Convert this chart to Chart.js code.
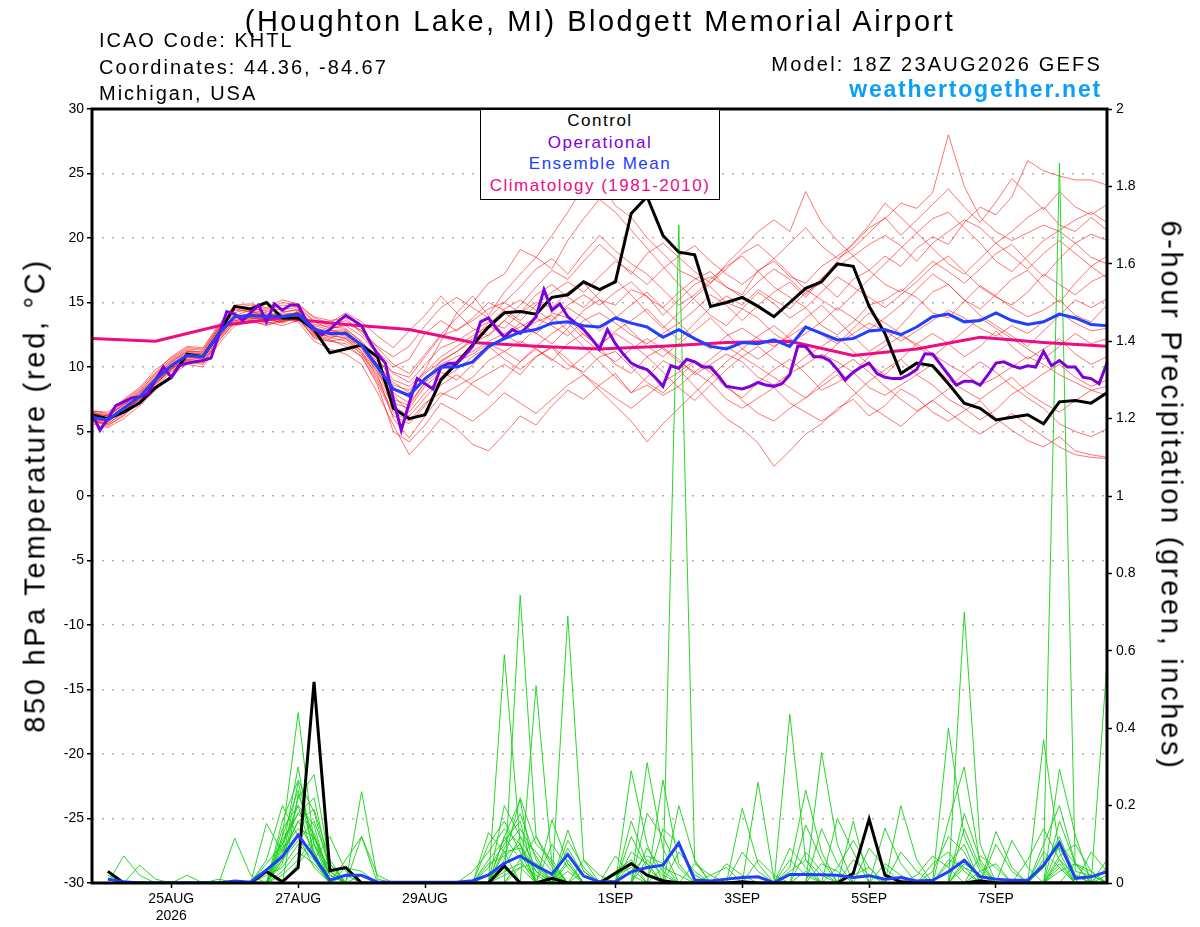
<!DOCTYPE html>
<html><head><meta charset="utf-8">
<script src="https://cdn.jsdelivr.net/npm/chart.js@4.4.1/dist/chart.umd.min.js"></script>
<style>
html,body{margin:0;padding:0;background:#fff;}
#wrap{position:relative;width:1200px;height:927px;overflow:hidden;background:#fff;font-family:"Liberation Sans",Arial,Helvetica,sans-serif;color:#000;}
#c{position:absolute;left:0;top:0;}
.t{position:absolute;white-space:nowrap;line-height:1;}
#leg{position:absolute;left:480px;top:109px;width:240px;height:91px;box-sizing:border-box;border:1.5px solid #000;background:#fff;font-size:17px;letter-spacing:1.5px;text-align:center;}
#leg div{line-height:21.7px;}
</style></head><body>
<div id="wrap">
<canvas id="c" width="1200" height="927"></canvas>
<div class="t" style="left:0;width:1200px;text-align:center;top:6.5px;font-size:29px;letter-spacing:2.5px;">(Houghton Lake, MI) Blodgett Memorial Airport</div>
<div class="t" style="left:99px;top:30px;font-size:20px;letter-spacing:2px;">ICAO Code: KHTL</div>
<div class="t" style="left:99px;top:57px;font-size:20px;letter-spacing:2px;">Coordinates: 44.36, -84.67</div>
<div class="t" style="left:99px;top:83px;font-size:20px;letter-spacing:2px;">Michigan, USA</div>
<div class="t" style="right:98px;top:54px;font-size:20px;letter-spacing:2.2px;">Model: 18Z 23AUG2026 GEFS</div>
<div class="t" style="right:98px;top:77.5px;font-size:23px;font-weight:bold;letter-spacing:1.8px;color:#0aa0fa;">weathertogether.net</div>
<div class="t" style="left:-265px;top:480.5px;width:600px;text-align:center;font-size:29px;letter-spacing:2.7px;transform:rotate(-90deg);">850 hPa Temperature (red, °C)</div>
<div class="t" style="left:871px;top:480.5px;width:600px;text-align:center;font-size:29px;letter-spacing:2.7px;transform:rotate(90deg);">6-hour Precipitation (green, inches)</div>
<div id="leg">
<div style="color:#000">Control</div>
<div style="color:#8000d8">Operational</div>
<div style="color:#2040ff">Ensemble Mean</div>
<div style="color:#ec0c84">Climatology (1981-2010)</div>
</div>
</div>
<script>
// ---- axis ticks (hours after 18Z 23AUG2026) ----
const tickHours = [30, 78, 126, 198, 246, 294, 342];
const tickLabels = [['25AUG','2026'], '27AUG', '29AUG', '1SEP', '3SEP', '5SEP', '7SEP'];

// ---- 850 hPa temperature (deg C), 6-hourly from 18Z 23AUG ----
const controlTemp = [6.3,6.0,6.5,7.2,8.4,9.2,11.0,10.8,12.6,14.7,14.5,15.0,13.8,13.8,12.9,11.1,11.4,11.7,10.8,6.8,
 6.0,6.3,9.0,10.3,11.7,13.1,14.2,14.3,14.1,15.4,15.6,16.6,16.0,16.6,21.9,23.2,20.2,18.9,18.7,14.7,
 15.0,15.4,14.7,13.9,15.0,16.1,16.6,18.0,17.8,14.7,12.6,9.5,10.3,10.1,8.7,7.2,6.8,5.9,6.1,6.3,
 5.6,7.3,7.4,7.2,8.0];
const meanTemp = [6.1,5.9,6.8,7.7,9.0,10.1,10.9,10.8,12.6,13.9,14.0,13.9,13.9,14.1,12.9,12.6,12.6,11.7,10.0,8.3,
 7.8,9.1,10.0,10.0,10.4,11.6,12.2,12.7,12.9,13.4,13.5,13.2,13.1,13.8,13.4,13.1,12.3,12.9,12.2,11.6,
 11.4,11.9,11.8,12.1,11.6,13.1,12.6,12.1,12.2,12.8,12.9,12.5,13.1,13.9,14.1,13.5,13.6,14.2,13.6,13.3,
 13.5,14.1,13.8,13.3,13.2];
// operational run, 3-hourly
const operationalTemp = [6.4,5.1,6.0,7.0,7.3,7.6,7.7,7.9,9.0,10.0,9.2,10.1,10.3,10.4,10.5,10.7,12.5,14.3,14.1,13.6,
 14.2,14.8,13.5,14.9,14.4,14.8,14.8,13.6,13.0,12.5,12.9,13.5,14.0,13.6,13.2,12.0,11.0,10.3,7.5,5.1,
 7.2,9.1,8.7,8.3,10.0,10.3,
 10.3,10.9,11.6,13.5,13.8,13.0,12.3,12.9,12.6,13.2,13.9,16.0,14.4,14.9,13.9,13.4,12.9,12.2,11.4,12.9,
 11.8,11.0,10.3,10.0,9.8,9.2,8.5,10.1,9.9,10.6,10.4,10.0,10.0,9.3,8.5,8.4,8.3,8.5,8.8,8.6,8.5,
 8.7,9.4,11.6,11.6,10.8,10.8,10.5,9.8,9.0,9.6,10.0,10.3,9.5,9.2,9.1,9.1,9.4,9.8,11.0,11.0,
 10.2,9.4,8.6,8.9,8.9,8.6,9.4,10.3,10.4,10.1,9.9,10.1,10.0,11.2,10.1,10.5,10.0,10.0,9.2,9.1,
 8.7,10.3];
// climatology, daily
const climoTemp = [12.2,12.0,13.2,13.8,13.3,12.9,11.9,11.6,11.4,11.6,11.9,12.0,10.9,11.4,12.3,11.9,11.6];

// ensemble members (6-hourly)
const member01 = [6.5,6.2,7.0,8.0,9.3,10.4,11.2,11.0,12.9,14.2,14.6,14.3,14.5,14.6,13.5,13.0,13.2,12.4,11.0,
 9.5,8.8,10.2,11.5,12.0,12.8,13.5,13.0,14.2,15.0,14.6,15.8,16.5,15.2,14.8,16.0,15.5,14.0,15.2,16.4,17.0,16.2,15.6,17.5,18.2,
 17.0,16.5,17.8,18.6,19.5,20.8,21.5,22.7,22.3,23.5,28.0,24.0,21.6,20.5,19.8,20.4,21.0,20.5,19.6,20.3,19.8];
const member02 = [5.8,5.6,6.5,7.5,8.8,9.8,10.7,10.9,12.3,13.8,14.2,14.0,13.6,14.3,12.6,12.9,13.4,12.8,11.5,
 10.2,9.5,11.0,12.5,13.8,15.0,16.5,17.2,19.1,18.5,20.2,22.0,24.0,24.4,22.5,21.6,20.0,18.8,17.5,16.9,16.2,15.0,14.5,15.8,14.9,
 13.8,14.6,13.2,12.5,13.5,14.8,15.2,16.0,15.4,14.2,13.8,15.1,16.3,15.5,14.6,13.9,14.4,15.2,14.0,13.5,14.8];
const member03 = [6.0,5.5,6.2,7.3,8.6,9.9,10.5,10.4,12.0,13.5,13.6,13.2,13.7,13.5,12.0,11.4,11.0,10.2,8.0,
 5.5,3.2,4.5,6.0,5.2,4.0,3.5,4.8,6.2,5.5,7.0,8.2,7.5,8.6,9.5,8.0,9.2,10.5,9.8,8.5,7.2,6.0,5.2,4.1,2.3,
 3.5,4.8,5.6,6.8,7.5,6.2,7.0,8.3,7.6,6.5,5.8,6.6,7.4,6.0,5.1,4.3,3.8,4.6,3.5,3.2,3.0];
const member04 = [6.3,6.1,7.2,8.1,9.5,10.6,11.4,11.3,13.0,14.5,14.3,14.1,14.0,13.8,13.2,12.9,12.5,11.4,9.8,
 7.5,7.0,8.8,10.5,11.2,12.0,13.2,12.5,11.8,13.0,14.2,13.8,12.5,11.6,12.8,13.6,14.5,13.2,12.1,13.4,14.6,15.5,14.8,16.0,15.2,
 14.5,15.8,16.5,15.4,16.8,17.5,18.6,17.8,19.2,20.1,19.5,21.2,22.4,21.8,23.2,26.0,25.2,24.8,24.5,24.5,24.1];
const member05 = [5.6,5.3,6.0,7.0,8.2,9.4,10.2,10.0,11.8,13.2,13.5,13.3,13.5,13.9,12.2,12.0,12.2,11.0,9.0,
 6.5,5.8,7.2,8.0,7.5,8.8,9.5,10.2,9.4,10.8,11.5,10.2,9.6,10.8,11.2,10.0,8.8,8.0,9.2,10.4,9.6,8.4,7.6,8.8,9.8,
 10.6,9.5,8.2,8.8,9.6,8.4,7.8,8.6,9.4,10.2,9.0,8.2,7.5,8.4,9.2,8.0,7.2,6.5,7.4,8.2,7.8];
const member06 = [6.6,6.4,7.4,8.3,9.6,10.8,11.6,11.5,13.3,14.8,14.9,14.6,15.2,14.9,13.8,13.4,14.2,13.5,12.4,
 11.5,12.8,14.0,15.5,14.2,13.0,12.4,13.6,14.8,16.2,17.5,16.8,18.2,19.5,18.4,17.2,18.8,19.6,18.5,17.4,16.5,18.0,19.2,20.5,21.4,
 20.5,23.6,21.2,19.8,18.6,17.5,16.4,15.8,17.0,18.2,17.4,16.5,17.6,18.8,19.5,18.2,17.0,18.4,19.6,18.5,18.0];
const member07 = [6.2,5.8,6.6,7.6,8.9,9.9,10.8,10.6,12.5,13.7,13.9,13.7,13.8,14.0,12.8,12.3,12.0,11.0,9.4,
 6.0,4.5,6.2,7.8,8.5,9.2,10.5,11.2,12.0,11.4,10.5,11.8,12.6,11.5,10.2,9.5,10.8,11.5,10.6,9.4,10.2,11.0,10.4,9.2,8.6,
 9.5,10.2,11.0,10.4,9.6,10.8,11.6,12.4,11.8,11.0,10.2,9.5,8.6,9.2,10.0,10.8,10.2,9.4,8.8,8.2,8.5];
const member08 = [5.9,5.7,6.8,7.9,9.2,10.2,11.0,10.9,12.8,14.0,14.4,14.2,13.5,14.4,12.5,12.2,12.8,11.6,10.2,
 8.8,8.0,9.8,12.0,14.2,15.5,14.0,15.8,17.2,18.5,17.6,19.8,21.5,23.0,22.0,20.6,19.2,17.8,16.4,15.2,14.0,13.2,14.5,13.8,12.6,
 11.8,12.6,13.5,14.6,13.8,12.9,13.8,14.8,16.0,17.2,16.4,15.2,14.5,15.6,16.8,17.5,16.2,15.0,16.5,17.8,16.9];
const member09 = [6.4,6.0,6.9,7.8,9.1,10.3,11.1,11.0,12.7,14.1,13.8,13.6,14.2,14.5,13.1,12.6,12.4,11.2,9.6,
 7.8,6.5,8.0,9.2,10.5,11.8,12.5,13.6,12.8,13.5,14.0,12.8,11.6,10.4,9.2,8.0,8.6,7.8,8.5,9.6,8.8,7.5,6.8,7.6,8.4,
 7.2,6.5,5.8,6.6,7.8,8.9,9.8,10.6,9.4,8.6,7.5,6.8,5.9,6.7,7.9,8.6,9.5,10.2,9.2,8.5,9.0];
const member10 = [6.1,5.9,6.7,7.4,8.8,9.9,10.6,10.7,12.4,13.8,14.1,14.0,14.1,14.2,13.0,12.8,12.9,12.0,10.6,
 9.0,8.5,9.6,10.8,11.6,12.4,13.2,14.5,15.2,14.4,13.6,14.8,15.6,14.8,15.8,16.6,15.4,14.6,15.8,16.8,17.4,16.2,15.4,16.6,17.6,
 16.8,15.6,16.9,17.8,18.6,19.5,20.2,19.4,18.2,19.6,20.5,21.4,20.8,19.6,20.5,21.6,22.4,21.0,20.5,21.6,20.6];
const member11 = [6.0,6.3,7.1,7.7,9.0,10.0,11.0,10.8,12.6,13.9,13.9,14.0,13.9,14.1,12.9,12.6,12.7,11.8,10.2,
 8.4,7.6,9.2,10.2,10.8,11.2,12.0,12.6,13.1,13.8,13.2,12.4,13.6,14.2,13.4,12.5,11.8,12.6,13.4,12.2,11.4,12.4,13.0,12.2,11.6,
 12.4,13.2,12.5,11.8,12.6,13.4,12.8,12.0,12.8,13.6,14.4,13.8,13.0,12.4,13.2,12.6,13.5,14.2,13.4,12.8,13.0];
const member12 = [5.7,5.6,6.4,7.2,8.5,9.6,10.4,10.2,12.1,13.4,13.6,13.5,13.2,13.6,12.4,12.1,11.6,10.8,8.6,
 5.0,4.2,5.5,7.2,6.5,5.8,6.8,8.0,7.2,6.4,7.5,8.6,9.4,8.5,7.6,6.8,7.8,8.8,9.6,10.5,9.8,8.6,7.4,6.4,5.8,
 6.8,7.6,8.5,9.4,8.2,7.0,6.2,5.4,6.5,7.4,8.3,9.5,10.4,9.6,8.5,7.6,6.8,5.6,5.0,4.6,5.2];
const member13 = [6.5,6.3,7.3,8.2,9.4,10.5,11.3,11.1,13.0,14.4,14.3,14.0,14.3,14.4,13.3,13.1,13.0,11.9,10.4,
 9.6,9.2,10.8,12.4,12.9,13.6,14.5,15.0,14.2,15.6,16.4,15.4,14.6,15.8,16.8,15.6,14.2,13.0,14.2,15.4,16.5,17.6,18.8,19.5,18.4,
 17.2,16.0,15.2,14.4,15.6,16.8,18.0,19.2,20.4,21.5,22.0,20.8,19.6,18.2,17.4,18.6,19.8,20.6,21.4,22.0,21.2];
const member14 = [5.8,5.9,6.6,7.5,8.7,9.8,10.6,10.5,12.2,13.6,13.8,13.8,13.4,13.9,12.5,12.4,12.3,11.5,9.6,
 7.2,6.8,8.5,9.6,9.0,10.2,11.4,12.4,13.4,12.6,11.8,13.0,14.4,15.2,14.0,12.8,11.6,10.8,11.8,12.8,13.8,12.6,11.4,10.6,11.5,
 12.6,13.8,14.8,13.6,12.4,11.2,12.0,13.2,14.6,15.8,16.4,15.2,14.0,13.2,12.4,11.6,12.8,14.0,15.2,14.6,15.3];
const member15 = [6.2,6.0,6.9,7.8,9.1,10.1,10.9,10.9,12.7,14.0,14.0,14.0,14.0,14.2,12.9,12.6,12.6,11.6,9.9,
 8.0,7.2,8.8,9.8,10.4,11.0,11.8,11.2,10.4,11.6,12.6,13.4,12.2,11.2,10.4,11.4,12.2,11.4,10.4,9.6,10.6,11.6,10.8,10.0,9.2,
 8.4,7.6,8.8,9.8,10.6,9.6,8.5,7.5,6.6,7.4,6.5,5.6,4.8,5.6,6.4,5.5,4.6,3.8,3.2,3.0,2.9];
const member16 = [6.4,6.2,7.1,8.0,9.2,10.4,11.2,11.2,13.1,14.6,14.5,14.4,14.8,14.7,13.6,13.2,13.6,12.8,11.6,
 10.8,11.6,13.2,14.6,15.4,14.6,13.8,15.0,16.2,17.6,18.4,17.2,18.8,20.2,19.0,18.0,17.2,16.0,14.8,15.6,16.8,17.8,18.6,17.4,16.2,
 15.4,14.6,15.8,17.0,16.2,15.4,14.6,15.6,16.6,17.8,18.6,17.4,16.2,15.4,14.8,15.8,17.2,16.4,15.6,16.6,17.2];
const member17 = [5.9,5.4,6.3,7.4,8.7,9.7,10.5,10.3,12.3,13.6,13.7,13.4,13.6,13.8,12.3,12.0,11.8,10.8,8.8,
 6.2,5.6,7.0,8.6,9.4,8.6,7.8,9.0,10.4,11.4,10.6,9.8,10.8,11.8,12.6,11.8,10.8,9.6,8.4,7.4,8.6,9.8,10.8,11.6,10.6,
 9.8,10.8,11.6,12.4,11.2,10.2,9.4,10.6,11.8,12.6,11.8,10.8,11.6,12.8,11.6,10.6,11.4,12.2,11.0,10.2,10.8];
const member18 = [6.6,6.5,7.5,8.4,9.8,10.7,11.5,11.4,13.2,14.6,14.8,14.5,15.0,14.8,13.9,13.6,13.8,12.6,11.2,
 10.0,10.6,12.6,13.6,12.8,13.8,15.0,14.4,13.6,14.8,15.8,16.6,15.8,17.0,18.2,17.4,16.4,17.6,18.6,19.4,18.2,17.2,16.4,17.4,18.4,
 19.6,20.8,19.4,18.4,19.2,20.4,21.6,20.2,21.4,22.6,23.8,22.4,21.2,22.8,24.6,23.4,22.2,23.6,22.4,21.8,22.6];
const member19 = [6.0,5.8,6.5,7.6,8.9,10.0,10.8,10.7,12.4,13.9,13.8,13.7,13.5,14.0,12.7,12.5,12.2,11.2,9.2,
 7.0,6.2,7.6,9.0,9.8,10.8,11.6,10.6,9.8,10.8,11.6,10.6,9.4,8.2,7.0,5.8,4.2,5.6,6.8,8.0,9.2,10.4,11.4,12.4,13.2,
 12.2,11.4,10.6,11.8,13.0,14.2,13.4,12.6,11.6,10.8,11.8,12.8,13.8,13.0,12.2,11.4,10.6,11.6,12.6,11.8,12.2];
const member20 = [6.3,6.0,6.8,7.7,9.0,10.2,10.9,10.9,12.6,13.9,14.1,14.0,14.0,14.2,12.9,12.7,12.8,11.8,10.2,
 8.6,8.2,9.5,10.4,11.2,12.2,13.4,14.2,13.4,12.6,13.6,14.6,13.8,12.8,13.8,14.8,15.8,14.6,13.4,14.4,15.6,14.8,13.6,14.8,15.8,
 16.6,15.4,16.8,18.2,19.6,21.0,22.7,21.6,20.4,19.2,18.0,17.2,18.4,19.6,18.6,17.6,18.8,19.8,18.8,17.8,18.6];

// ---- 6-hour precipitation (inches) ----
const controlPrecip = [null,0.03,0,0,0,0,0,0,0,0, 0,0.03,0.003,0.04,0.52,0.032,0.04,0,0,0,
 0,0,0,0,0,0,0.044,0,0,0.012, 0,0,0,0.025,0.05,0.02,0.006,0,0,0,
 0,0.003,0,0,0,0,0,0,0.025,0.165, 0.02,0.003,0,0,0,0,0.006,0,0,0, 0,0,0,0,0];
const meanPrecip = [null,0.01,0.003,0,0,0,0,0,0,0.005, 0.002,0.034,0.068,0.124,0.068,0.008,0.02,0.02,0.002,0.002,
 0.002,0.002,0.002,0.002,0.006,0.021,0.051,0.07,0.044,0.023, 0.074,0.018,0.003,0.003,0.029,0.04,0.046,0.103,0.008,0.005,
 0.01,0.014,0.016,0.001,0.022,0.022,0.021,0.02,0.014,0.019, 0.01,0.014,0.005,0.007,0.029,0.059,0.016,0.01,0.007,0.007,
 0.046,0.104,0.012,0.016,0.029];
const precip01 = [null,0,0.07,0.02,0,0,0,0, 0,0,0,0,0.12,0.44,0.1,0.02, 0,0,0,0,0,0,0,0, 0,0,0.59,0.1,0.03,0,0,0,
 0,0,0.29,0.1,0,0,0,0, 0,0,0,0,0.04,0.24,0.08,0, 0,0,0,0,0,0,0.4,0.12, 0.03,0,0,0,0,0.1,0.05,0, 0.02];
const precip02 = [null,0.02,0,0.046,0.01,0,0,0, 0,0,0,0.154,0.08,0.3,0.06,0, 0,0,0,0,0,0,0,0, 0,0,0,0.744,0.12,0.04,0,0,
 0,0,0,0,0.266,0.05,0,0, 0,0,0,0,0,0,0.337,0.1, 0,0,0,0,0,0,0,0.70, 0.1,0,0,0,0.05,1.86,0.03,0.02, 0];
const precip03 = [null,0,0,0,0,0,0,0, 0,0,0,0,0.16,0.266,0.184,0.03, 0,0,0,0,0,0,0,0, 0,0.13,0.08,0,0.51,0.05,0,0,
 0,0,0,0,0,1.70,0.055,0, 0,0.193,0.05,0,0,0,0,0, 0,0,0.141,0.05,0,0,0,0, 0,0.133,0.04,0,0,0,0,0, 0.57];
const precip04 = [null,0,0,0,0,0,0,0, 0,0.116,0.02,0,0,0.23,0.12,0, 0,0.236,0.01,0,0,0,0,0, 0,0,0.12,0.214,0,0,0.69,0.06,
 0,0,0,0.311,0.09,0,0,0, 0,0,0.26,0.01,0,0,0,0, 0,0,0,0.2,0.06,0,0,0, 0,0,0,0,0.37,0.08,0,0, 0];
const precip05 = [null,0,0,0,0,0,0,0, 0,0,0,0,0.1,0.2,0.15,0, 0.06,0.12,0,0,0,0,0,0, 0,0.06,0.11,0.16,0,0.163,0.05,0,
 0,0,0.08,0.05,0,0,0,0, 0,0,0,0,0.436,0.06,0,0, 0,0,0,0,0,0,0.16,0.30, 0.05,0,0,0,0,0.294,0.124,0, 0];
const precip06 = [null,0,0,0,0,0,0,0, 0,0,0,0.05,0.1,0.18,0.22,0.03, 0,0,0,0,0,0,0,0, 0,0,0.09,0.14,0.07,0,0.137,0.03,
 0,0.07,0.02,0,0,0,0,0, 0,0,0,0,0,0,0,0.167, 0.08,0,0,0,0,0,0,0, 0,0,0.11,0.04,0,0,0,0, 0];
const precip07 = [null,0,0,0,0,0,0,0, 0,0,0,0,0.06,0.26,0.1,0, 0.04,0.03,0,0,0,0,0,0, 0.03,0.08,0.14,0.1,0,0,0,0,
 0,0,0,0,0,0.08,0.03,0, 0,0,0,0,0,0.15,0.06,0, 0,0,0,0,0,0.03,0.12,0.08, 0,0,0,0,0.1,0.2,0.05,0, 0];
const precip08 = [null,0,0,0,0,0,0,0, 0,0,0,0,0.14,0.2,0.06,0.12, 0.03,0,0,0,0,0,0,0, 0,0,0.06,0.22,0.1,0.06,0,0,
 0,0,0.12,0.04,0,0,0,0, 0,0.08,0.03,0,0,0,0,0, 0,0.09,0.04,0,0,0,0,0.18, 0.06,0,0,0,0,0,0,0.08, 0.03];
const precip09 = [null,0,0,0,0,0,0.02,0, 0,0,0,0,0.08,0.16,0.08,0, 0,0,0,0,0,0,0,0, 0,0.1,0.16,0.08,0,0,0.11,0.04,
 0,0,0,0,0.14,0.1,0.02,0, 0,0,0,0,0.09,0.04,0,0, 0.16,0,0,0.08,0.03,0,0,0, 0,0,0,0.06,0.14,0.06,0,0, 0];
const precip10 = [null,0,0,0,0,0,0,0, 0,0,0,0,0.05,0.22,0.28,0.05, 0,0.12,0.02,0,0,0,0,0, 0,0.04,0.1,0.18,0.06,0,0.06,0,
 0,0,0,0.18,0.12,0.04,0,0, 0,0,0,0,0,0,0.14,0.05, 0,0,0,0,0,0,0,0, 0.07,0.04,0,0,0,0,0.05,0.03, 0];
const precip11 = [null,0,0,0,0,0,0,0, 0.01,0,0,0.06,0.2,0.12,0.04,0, 0,0,0,0,0,0,0,0, 0,0,0,0.06,0.12,0.05,0,0,
 0,0.03,0.06,0,0,0,0,0.02, 0.04,0,0,0,0,0,0,0, 0.06,0.02,0,0,0,0,0.05,0.1, 0,0,0,0,0.04,0.12,0.02,0, 0];
const precip12 = [null,0,0,0,0,0,0,0, 0,0,0.005,0,0.12,0.24,0.08,0, 0.02,0,0,0,0,0,0,0, 0,0,0.2,0.12,0.04,0,0,0.06,
 0.02,0,0,0,0,0.2,0.06,0, 0,0,0,0,0,0.08,0.03,0, 0,0,0,0,0.02,0.07,0.04,0, 0,0,0,0,0,0.16,0.05,0, 0.04];
const precip13 = [null,0,0,0,0,0,0,0, 0,0,0,0,0.09,0.14,0.12,0.03, 0,0,0,0,0,0,0,0, 0,0.05,0.07,0.1,0,0,0.09,0.02,
 0,0,0,0.09,0.03,0,0,0, 0,0,0,0,0.06,0.02,0,0, 0,0,0,0,0,0,0,0.14, 0.04,0,0,0,0.08,0.04,0,0, 0];
const precip14 = [null,0,0,0,0,0,0,0, 0,0,0,0,0.07,0.16,0.19,0.06, 0,0,0,0,0,0,0,0, 0,0,0.12,0.06,0,0.1,0.04,0,
 0,0,0.16,0.05,0,0,0,0, 0.05,0.02,0,0,0,0,0,0.04, 0.11,0.04,0,0,0,0,0,0, 0,0.1,0.03,0,0,0.07,0.1,0.03, 0];
const precip15 = [null,0,0,0,0,0,0,0, 0,0,0,0.02,0.04,0.1,0.06,0, 0,0,0,0,0,0,0,0, 0,0,0,0.04,0.05,0.02,0,0,
 0,0,0,0,0.04,0.02,0,0, 0,0,0,0,0,0,0,0, 0,0,0.05,0.02,0,0,0,0.04, 0.02,0,0,0,0,0.05,0,0, 0];
const precip16 = [null,0,0,0,0,0,0,0, 0,0,0,0,0.11,0.18,0.13,0.02, 0,0,0,0,0,0,0,0, 0,0,0.08,0.09,0.03,0,0.05,0,
 0,0,0.05,0.02,0,0,0,0, 0,0,0.06,0.02,0,0,0,0, 0,0,0,0,0,0.05,0.08,0.03, 0,0,0,0,0.06,0.09,0.02,0, 0];
const precip17 = [null,0,0,0,0,0,0,0, 0,0,0,0,0,0.05,0.1,0.04, 0,0,0,0,0,0,0,0, 0,0,0.03,0.05,0.02,0,0,0.03,
 0,0,0,0,0,0,0.05,0.02, 0,0,0,0,0.03,0.06,0.02,0, 0,0,0,0,0,0,0,0, 0.03,0.05,0,0,0,0,0,0, 0.06];
const precip18 = [null,0,0,0,0,0,0,0, 0,0,0,0,0.03,0.08,0.05,0, 0,0,0,0,0,0,0,0, 0,0.02,0.04,0.12,0.08,0.03,0,0,
 0,0,0,0.06,0.02,0,0,0, 0,0,0,0,0,0,0.05,0.03, 0,0,0,0,0,0,0,0.06, 0.02,0,0,0,0,0.03,0.05,0.02, 0];
const precip19 = [null,0,0,0,0,0,0,0, 0,0,0,0,0.06,0.11,0.16,0.05, 0,0,0,0,0,0,0,0, 0,0,0.05,0.07,0.05,0,0.03,0,
 0,0,0.03,0.07,0.05,0,0,0, 0,0,0,0,0,0.03,0,0, 0,0,0,0,0,0,0.06,0.04, 0,0,0,0,0,0.06,0.02,0, 0];
const precip20 = [null,0,0,0,0,0,0,0, 0,0,0,0,0.02,0.06,0.12,0.02, 0,0.02,0,0,0,0,0,0, 0,0,0.02,0.04,0,0.02,0,0,
 0,0.02,0.04,0,0,0,0,0, 0,0,0,0,0,0,0,0, 0.02,0.04,0,0,0,0,0,0.05, 0.02,0,0,0,0,0.04,0,0, 0];

const redMembers = [member01,member02,member03,member04,member05,member06,member07,member08,member09,member10,
 member11,member12,member13,member14,member15,member16,member17,member18,member19,member20];
const greenMembers = [precip01,precip02,precip03,precip04,precip05,precip06,precip07,precip08,precip09,precip10,
 precip11,precip12,precip13,precip14,precip15,precip16,precip17,precip18,precip19,precip20];

const xy = (arr, step) => arr.map((v, i) => ({x: i * step, y: v}));
const line = (data, color, width, axis) => ({data, borderColor: color, borderWidth: width, yAxisID: axis,
  pointRadius: 0, fill: false, tension: 0, spanGaps: false});

// dataset 0 is drawn on top
const datasets = [];
datasets.push(line(xy(meanPrecip, 6), '#2040ff', 3, 'y2'));
datasets.push(line(xy(controlPrecip, 6), '#000000', 3, 'y2'));
datasets.push(line(xy(meanTemp, 6), '#2040ff', 3, 'y'));
datasets.push(line(xy(operationalTemp, 3), '#8000d8', 3, 'y'));
datasets.push(line(xy(controlTemp, 6), '#000000', 3, 'y'));
datasets.push(line(xy(climoTemp, 24), '#ec0c84', 3, 'y'));
greenMembers.forEach(g => datasets.push(line(xy(g, 6), 'rgba(20,210,20,0.9)', 1, 'y2')));
redMembers.forEach(r => datasets.push(line(xy(r, 6), 'rgba(255,0,0,0.55)', 1, 'y')));

Chart.defaults.font.family = '"Liberation Sans", Arial, sans-serif';
Chart.defaults.color = '#000';

const framePlugin = {
  id: 'frame',
  afterDatasetsDraw(chart) {
    const {ctx, chartArea: a} = chart;
    ctx.save();
    ctx.strokeStyle = '#000';
    ctx.lineWidth = 3;
    ctx.strokeRect(a.left, a.top, a.right - a.left, a.bottom - a.top);
    ctx.restore();
  }
};

new Chart(document.getElementById('c'), {
  type: 'line',
  data: {datasets},
  plugins: [framePlugin],
  options: {
    responsive: false,
    animation: false,
    devicePixelRatio: 1,
    layout: {padding: {top: 109, left: 0, right: 0, bottom: 0}},
    plugins: {legend: {display: false}, tooltip: {enabled: false}, title: {display: false}},
    scales: {
      x: {
        type: 'linear', position: 'bottom', min: 0, max: 384,
        afterBuildTicks: s => { s.ticks = tickHours.map(v => ({value: v})); },
        afterFit: s => { s.height = 44; },
        ticks: {autoSkip: false, maxRotation: 0, minRotation: 0, padding: 3, color: '#000',
          font: {size: 14},
          callback: v => { const k = tickHours.indexOf(v); return k >= 0 ? tickLabels[k] : ''; }},
        grid: {drawOnChartArea: false, tickLength: 5, tickColor: '#000', tickWidth: 1.5},
        border: {display: false}
      },
      y: {
        type: 'linear', position: 'left', min: -30, max: 30,
        afterFit: s => { s.width = 92; },
        ticks: {stepSize: 5, padding: 3, color: '#000', font: {size: 14}},
        grid: {color: '#b0b0b0', lineWidth: 1.5, tickColor: '#000', tickLength: 5, tickWidth: 1.5, tickBorderDash: []},
        border: {display: false, dash: [2, 8]}
      },
      y2: {
        type: 'linear', position: 'right', min: 0, max: 2,
        afterFit: s => { s.width = 93; },
        ticks: {stepSize: 0.2, padding: 4, color: '#000', font: {size: 14},
          callback: v => String(Math.round(v * 10) / 10)},
        grid: {drawOnChartArea: false, tickColor: '#000', tickLength: 5, tickWidth: 1.5},
        border: {display: false}
      }
    }
  }
});
</script>
</body></html>
